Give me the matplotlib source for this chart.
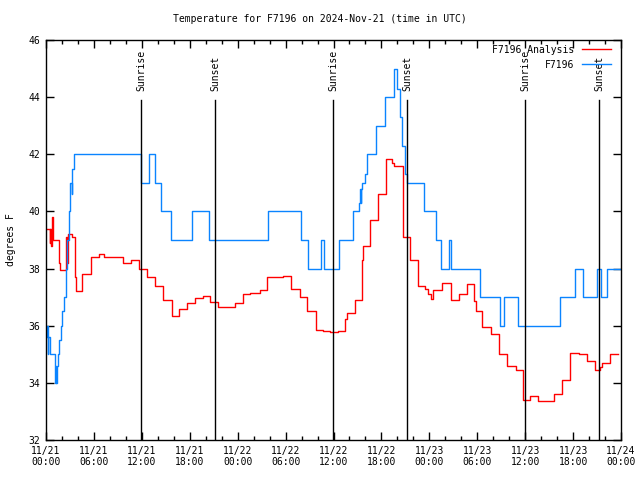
import numpy as np
import matplotlib
matplotlib.use('Agg')
import matplotlib.pyplot as plt
from matplotlib.ticker import MultipleLocator, FixedLocator

plt.rcParams['font.family'] = ['DejaVu Sans Mono']
plt.rcParams['font.size'] = 7

# station observations (hours since 2024-11-21 00:00 UTC, degrees F), step changes
obs_hours = [0.0, 0.1, 0.2, 0.3, 0.5, 1.1, 1.2, 1.3, 1.4, 1.5, 1.65, 1.85, 2.05, 2.25,
             2.45, 2.6, 2.85, 3.05, 3.2, 3.3, 3.5, 11.85, 11.95, 12.85, 13.65, 14.4,
             15.6, 18.3, 20.4, 27.8, 31.9, 32.75, 34.4, 34.8, 36.7, 38.5, 39.2, 39.3,
             39.4, 39.5, 39.6, 39.9, 40.2, 41.3, 42.5, 43.6, 44.0, 44.3, 44.6, 44.9,
             45.2, 47.3, 48.8, 49.5, 50.5, 50.7, 54.3, 56.8, 57.3, 59.1, 64.3, 66.3,
             67.3, 69.0, 69.5, 70.3, 72.0]
obs_temp = [35.6, 36.0, 35.0, 35.6, 35.0, 34.0, 34.6, 34.0, 34.6, 35.0, 35.5, 36.0, 36.5, 37.0,
            38.0, 39.0, 40.0, 41.0, 40.6, 41.5, 42.0, 41.8, 41.0, 42.0, 41.0, 40.0,
            39.0, 40.0, 39.0, 40.0, 39.0, 38.0, 39.0, 38.0, 39.0, 40.0, 40.3, 40.8,
            40.3, 40.8, 41.0, 41.3, 42.0, 43.0, 44.0, 45.0, 44.3, 43.3, 42.3, 41.3,
            41.0, 40.0, 39.0, 38.0, 39.0, 38.0, 37.0, 36.0, 37.0, 36.0, 37.0, 38.0,
            37.0, 38.0, 37.0, 38.0, 38.0]

# analysis values
ana_hours = [0.0, 0.45, 0.55, 0.6, 0.75, 0.85, 1.6, 1.75, 2.5, 2.6, 2.7, 3.2, 3.6, 3.75,
             4.55, 5.6, 6.6, 7.2, 9.7, 10.6, 11.7, 12.6, 13.6, 14.7, 15.8, 16.7, 17.7,
             18.7, 19.7, 20.5, 21.5, 23.7, 24.7, 25.6, 26.8, 27.7, 29.7, 30.7, 31.8,
             32.7, 33.8, 34.7, 35.6, 36.6, 37.5, 37.7, 38.7, 39.6, 39.7, 40.6, 41.6,
             42.6, 43.3, 43.6, 44.7, 45.6, 46.6, 47.5, 47.8, 48.2, 48.5, 49.6, 50.7,
             51.7, 52.7, 53.6, 53.9, 54.6, 55.7, 56.7, 57.7, 58.8, 59.7, 60.6, 61.6,
             63.6, 64.6, 65.6, 66.7, 67.8, 68.8, 69.4, 69.6, 70.6, 71.6]
ana_temp = [39.4, 38.9, 39.4, 38.8, 39.8, 39.0, 38.2, 37.95, 39.1, 38.2, 39.2, 39.1, 37.7, 37.2,
            37.8, 38.4, 38.5, 38.4, 38.2, 38.3, 38.0, 37.72, 37.39, 36.9, 36.34, 36.57, 36.78,
            36.96, 37.04, 36.84, 36.64, 36.78, 37.1, 37.15, 37.25, 37.7, 37.75, 37.3, 37.0,
            36.5, 35.85, 35.8, 35.77, 35.8, 36.25, 36.45, 36.9, 38.3, 38.8, 39.7, 40.6,
            41.85, 41.7, 41.6, 39.1, 38.3, 37.4, 37.3, 37.1, 36.95, 37.25, 37.5, 36.9,
            37.1, 37.45, 36.85, 36.5, 35.95, 35.7, 35.0, 34.6, 34.45, 33.4, 33.55, 33.35,
            33.6, 34.1, 35.05, 35.0, 34.75, 34.45, 34.55, 34.7, 35.0, 35.0]

sunrise_hours = [11.9, 35.95, 60.0]
sunset_hours = [21.15, 45.2, 69.3]

tick_hours = np.arange(0, 73, 6)
tick_labels = ['11/21\n00:00', '11/21\n06:00', '11/21\n12:00', '11/21\n18:00',
               '11/22\n00:00', '11/22\n06:00', '11/22\n12:00', '11/22\n18:00',
               '11/23\n00:00', '11/23\n06:00', '11/23\n12:00', '11/23\n18:00',
               '11/24\n00:00']

fig = plt.figure(figsize=(6.4, 4.8), dpi=100)
ax = fig.add_axes([46 / 640, 40 / 480, 575 / 640, 400 / 480])

ax.step(ana_hours, ana_temp, where='post', color='#ff0000', lw=1, label='F7196 Analysis')
ax.step(obs_hours, obs_temp, where='post', color='#0a84ff', lw=1, label='F7196')

for h in sunrise_hours:
    ax.plot([h, h], [32, 43.9], color='black', lw=1)
    ax.text(h, 44.2, 'Sunrise', rotation=90, ha='center', va='bottom', fontsize=7)
for h in sunset_hours:
    ax.plot([h, h], [32, 43.9], color='black', lw=1)
    ax.text(h, 44.2, 'Sunset', rotation=90, ha='center', va='bottom', fontsize=7)

ax.set_xlim(0, 72)
ax.set_ylim(32, 46)
ax.xaxis.set_major_locator(FixedLocator(tick_hours))
ax.set_xticklabels(tick_labels)
ax.xaxis.set_minor_locator(MultipleLocator(2))
ax.yaxis.set_major_locator(MultipleLocator(2))
ax.tick_params(which='both', direction='in', top=True, right=True, width=1)
ax.tick_params(which='major', length=6, pad=4)
ax.tick_params(which='minor', length=3)
for s in ax.spines.values():
    s.set_linewidth(1)

ax.set_ylabel('degrees F', labelpad=9, fontsize=7)
fig.text(0.5, 1 - 19 / 480, 'Temperature for F7196 on 2024-Nov-21 (time in UTC)',
         ha='center', va='center', fontsize=7)

ax.legend(loc='upper right', bbox_to_anchor=(1, 1.013), frameon=False, markerfirst=False,
          handlelength=3.0, borderaxespad=0.6, labelspacing=0.55, handletextpad=0.8,
          fontsize=7)

fig.savefig('out.png', dpi=100)
